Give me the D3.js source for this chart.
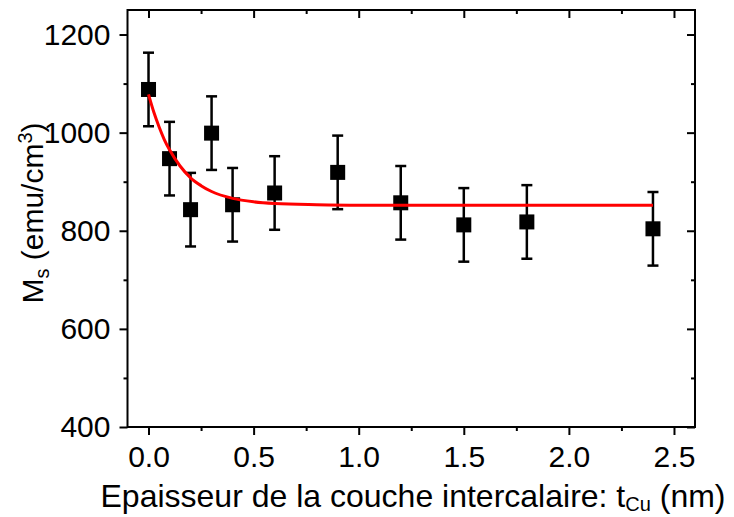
<!DOCTYPE html>
<html><head><meta charset="utf-8">
<script src="https://cdn.jsdelivr.net/npm/d3@7"></script>
<style>html,body{margin:0;padding:0;background:#fff;}</style>
</head><body>
<svg id="c" width="734" height="517"></svg>
<script>
const thickness = [0, 0.1, 0.2, 0.3, 0.4, 0.6, 0.9, 1.2, 1.5, 1.8, 2.4];
const ms = [1088, 947, 843, 999, 853, 877, 919, 857, 812, 818, 804];
const msErr = [75, 75, 75, 75, 75, 75, 75, 75, 75, 75, 75];
const fitX = [0, 0.025, 0.05, 0.075, 0.1, 0.15, 0.2, 0.25, 0.3, 0.4, 0.5, 0.6, 0.8, 1.0, 1.5, 2.0, 2.4];
const fitY = [1078, 1042, 1012, 986, 965, 932, 908, 892, 880, 866, 859, 855.5, 853, 852, 852, 852, 852];
const xTicks = [0, 0.5, 1.0, 1.5, 2.0, 2.5];
const xMinor = [0.25, 0.75, 1.25, 1.75, 2.25];
const yTicks = [400, 600, 800, 1000, 1200];
const yMinor = [500, 700, 900, 1100];

const L = 127.5, R = 695, T = 10, B = 427;
const svg = d3.select("#c");
const x = d3.scaleLinear().domain([-0.1, 2.6]).range([L, R]);
const y = d3.scaleLinear().domain([400, 1250]).range([B, T]);
const font = "'Liberation Sans', Arial, sans-serif";

svg.append("rect").attr("x", L).attr("y", T).attr("width", R - L).attr("height", B - T)
  .attr("fill", "none").attr("stroke", "#000").attr("stroke-width", 2);

function styleAxis(g) {
  g.select(".domain").remove();
  g.selectAll("line").attr("stroke", "#000").attr("stroke-width", 2);
  g.selectAll("text").attr("font-family", font).attr("font-size", 30).attr("fill", "#000");
}
svg.append("g").attr("transform", `translate(0,${B})`)
  .call(d3.axisBottom(x).tickValues(xTicks).tickFormat(d3.format(".1f")).tickSize(8).tickPadding(11))
  .call(styleAxis);
svg.append("g").attr("transform", `translate(0,${B})`)
  .call(d3.axisBottom(x).tickValues(xMinor).tickFormat("").tickSize(4)).call(styleAxis);
svg.append("g").attr("transform", `translate(0,${T})`)
  .call(d3.axisTop(x).tickValues(xTicks).tickFormat("").tickSize(-8)).call(styleAxis);
svg.append("g").attr("transform", `translate(0,${T})`)
  .call(d3.axisTop(x).tickValues(xMinor).tickFormat("").tickSize(-4)).call(styleAxis);
svg.append("g").attr("transform", `translate(${L},0)`)
  .call(d3.axisLeft(y).tickValues(yTicks).tickFormat(d3.format("d")).tickSize(8).tickPadding(9))
  .call(styleAxis);
svg.append("g").attr("transform", `translate(${L},0)`)
  .call(d3.axisLeft(y).tickValues(yMinor).tickFormat("").tickSize(4)).call(styleAxis);
svg.append("g").attr("transform", `translate(${R},0)`)
  .call(d3.axisRight(y).tickValues(yTicks).tickFormat("").tickSize(-8)).call(styleAxis);
svg.append("g").attr("transform", `translate(${R},0)`)
  .call(d3.axisRight(y).tickValues(yMinor).tickFormat("").tickSize(-4)).call(styleAxis);

const pts = thickness.map((t, i) => ({t, v: ms[i], e: msErr[i]}));
const eb = svg.append("g").attr("stroke", "#000").attr("stroke-width", 2.5);
pts.forEach(p => {
  eb.append("line").attr("x1", x(p.t)).attr("x2", x(p.t)).attr("y1", y(p.v - p.e)).attr("y2", y(p.v + p.e));
  eb.append("line").attr("x1", x(p.t) - 5.5).attr("x2", x(p.t) + 5.5).attr("y1", y(p.v - p.e)).attr("y2", y(p.v - p.e));
  eb.append("line").attr("x1", x(p.t) - 5.5).attr("x2", x(p.t) + 5.5).attr("y1", y(p.v + p.e)).attr("y2", y(p.v + p.e));
});
svg.append("g").selectAll("rect").data(pts).join("rect")
  .attr("x", d => x(d.t) - 7.5).attr("y", d => y(d.v) - 7.5)
  .attr("width", 15).attr("height", 15).attr("fill", "#000");

const fit = fitX.map((t, i) => [t, fitY[i]]);
svg.append("path").datum(fit)
  .attr("d", d3.line().x(d => x(d[0])).y(d => y(d[1])).curve(d3.curveMonotoneX))
  .attr("fill", "none").attr("stroke", "#ff0000").attr("stroke-width", 3);

const xt = svg.append("text").attr("x", 413).attr("y", 507).attr("text-anchor", "middle")
  .attr("font-family", font).attr("font-size", 32).attr("fill", "#000");
xt.append("tspan").text("Epaisseur de la couche intercalaire: t");
xt.append("tspan").attr("font-size", 20).attr("dy", 4).text("Cu");
xt.append("tspan").attr("dy", -4).text(" (nm)");

const yt = svg.append("text").attr("transform", "translate(43,213) rotate(-90)").attr("text-anchor", "middle")
  .attr("font-family", font).attr("font-size", 30).attr("fill", "#000");
yt.append("tspan").text("M");
yt.append("tspan").attr("font-size", 20).attr("dy", 6).text("s");
yt.append("tspan").attr("dy", -6).text(" (emu/cm");
yt.append("tspan").attr("font-size", 20).attr("dy", -11).text("3");
yt.append("tspan").attr("dy", 11).text(")");
</script>
</body></html>
